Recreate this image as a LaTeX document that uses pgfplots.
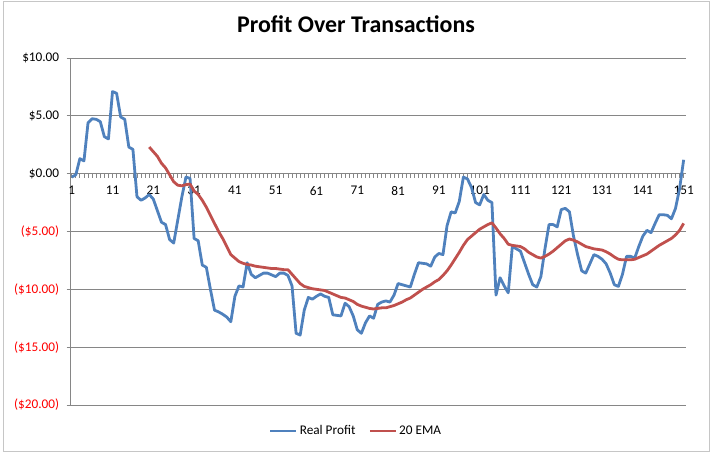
\documentclass[border=0pt]{standalone}
\usepackage{pgfplots}
\pgfplotsset{compat=1.18}
\usepackage{pgfplotstable}
\usepackage{fontspec}
\setmainfont{Carlito}
\definecolor{xblue}{HTML}{4F81BD}
\definecolor{xred}{HTML}{C0504D}
\definecolor{xgray}{HTML}{868686}
\definecolor{negred}{HTML}{FF0000}

\pgfplotstableread{
x y
1 -0.3
2 -0.1
3 1.3
4 1.1
5 4.4
6 4.75
7 4.7
8 4.5
9 3.2
10 3.0
11 7.1
12 6.95
13 4.9
14 4.7
15 2.3
16 2.1
17 -2.0
18 -2.3
19 -2.1
20 -1.8
21 -2.2
22 -3.2
23 -4.2
24 -4.4
25 -5.7
26 -6.0
27 -4.0
28 -2.0
29 -0.3
30 -0.4
31 -5.6
32 -5.8
33 -7.9
34 -8.1
35 -10.0
36 -11.8
37 -11.95
38 -12.15
39 -12.4
40 -12.8
41 -10.6
42 -9.7
43 -9.8
44 -7.7
45 -8.7
46 -9.0
47 -8.8
48 -8.6
49 -8.6
50 -8.75
51 -8.9
52 -8.6
53 -8.6
54 -8.8
55 -9.7
56 -13.8
57 -13.95
58 -11.8
59 -10.7
60 -10.85
61 -10.6
62 -10.4
63 -10.6
64 -10.7
65 -12.2
66 -12.25
67 -12.3
68 -11.2
69 -11.5
70 -12.3
71 -13.5
72 -13.8
73 -12.9
74 -12.3
75 -12.5
76 -11.3
77 -11.1
78 -11.0
79 -11.1
80 -10.5
81 -9.5
82 -9.6
83 -9.7
84 -9.8
85 -8.7
86 -7.7
87 -7.75
88 -7.8
89 -8.0
90 -7.2
91 -6.9
92 -7.0
93 -4.5
94 -3.3
95 -3.4
96 -2.4
97 -0.3
98 -0.45
99 -1.2
100 -2.5
101 -2.7
102 -1.8
103 -2.3
104 -2.5
105 -10.5
106 -9.0
107 -9.7
108 -10.3
109 -6.3
110 -6.5
111 -6.7
112 -7.7
113 -8.7
114 -9.6
115 -9.8
116 -8.9
117 -6.5
118 -4.4
119 -4.4
120 -4.6
121 -3.1
122 -3.0
123 -3.3
124 -5.4
125 -7.0
126 -8.4
127 -8.6
128 -7.8
129 -7.0
130 -7.15
131 -7.4
132 -7.8
133 -8.6
134 -9.6
135 -9.75
136 -8.7
137 -7.15
138 -7.15
139 -7.3
140 -6.3
141 -5.4
142 -4.9
143 -5.1
144 -4.3
145 -3.55
146 -3.55
147 -3.6
148 -3.9
149 -3.0
150 -1.3
151 1.2
}\realprofit

\pgfplotstableread{
x y
20 2.3
21 1.9
22 1.5
23 0.9
24 0.5
25 -0.1
26 -0.7
27 -1.0
28 -1.05
29 -0.95
30 -0.9
31 -1.5
32 -1.8
33 -2.3
34 -2.9
35 -3.6
36 -4.3
37 -5.0
38 -5.6
39 -6.3
40 -7.0
41 -7.3
42 -7.6
43 -7.75
44 -7.85
45 -7.9
46 -8.0
47 -8.05
48 -8.1
49 -8.15
50 -8.2
51 -8.2
52 -8.25
53 -8.3
54 -8.3
55 -8.7
56 -9.1
57 -9.5
58 -9.75
59 -9.85
60 -9.95
61 -10.0
62 -10.05
63 -10.1
64 -10.25
65 -10.4
66 -10.55
67 -10.7
68 -10.75
69 -10.9
70 -11.05
71 -11.3
72 -11.45
73 -11.55
74 -11.65
75 -11.7
76 -11.65
77 -11.6
78 -11.6
79 -11.5
80 -11.4
81 -11.25
82 -11.1
83 -10.9
84 -10.75
85 -10.5
86 -10.25
87 -10.0
88 -9.8
89 -9.6
90 -9.35
91 -9.15
92 -8.8
93 -8.4
94 -7.9
95 -7.35
96 -6.8
97 -6.2
98 -5.7
99 -5.4
100 -5.1
101 -4.8
102 -4.6
103 -4.4
104 -4.25
105 -4.7
106 -5.2
107 -5.6
108 -6.1
109 -6.2
110 -6.25
111 -6.3
112 -6.5
113 -6.8
114 -7.0
115 -7.2
116 -7.3
117 -7.15
118 -6.95
119 -6.7
120 -6.4
121 -6.1
122 -5.8
123 -5.65
124 -5.75
125 -5.9
126 -6.1
127 -6.3
128 -6.4
129 -6.5
130 -6.55
131 -6.6
132 -6.75
133 -6.95
134 -7.2
135 -7.4
136 -7.45
137 -7.45
138 -7.45
139 -7.4
140 -7.25
141 -7.1
142 -6.95
143 -6.7
144 -6.45
145 -6.2
146 -6.0
147 -5.8
148 -5.6
149 -5.3
150 -4.9
151 -4.3
}\ema

\begin{document}
\begin{tikzpicture}
\path[use as bounding box] (-70.7bp,-49bp) rectangle (640.3bp,405bp);
\draw[gray!45, line width=0.8bp] (-67.7bp,-46bp) rectangle (638.3bp,404bp);
\begin{axis}[
  at={(0,0)}, anchor=south west,
  scale only axis, width=615bp, height=347bp,
  xmin=0.75, xmax=151.5, ymin=-20, ymax=10,
  axis x line*=middle, axis y line*=left,
  axis line style={xgray, line width=0.8bp},
  tick align=outside,
  major tick length=4bp, minor tick length=4bp,
  tick style={xgray, line width=0.8bp},
  xtick={1,11,...,151},
  xticklabels={1,11,21,31,41,51,61,71,81,91,101,111,121,131,141,151},
  minor x tick num=9,
  ytick={-20,-15,...,10},
  yticklabels={\textcolor{negred}{(\$20.00)},\textcolor{negred}{(\$15.00)},\textcolor{negred}{(\$10.00)},\textcolor{negred}{(\$5.00)},\$0.00,\$5.00,\$10.00},
  ymajorgrids,
  major grid style={xgray, line width=0.8bp},
  ticklabel style={font=\fontsize{13.3}{15}\selectfont},
  xticklabel style={yshift=-5bp},
  yticklabel style={xshift=-4bp},
  title={Profit Over Transactions},
  title style={at={(0.464,1)}, anchor=center, yshift=28bp, font=\fontsize{24}{28}\selectfont\bfseries},
  legend style={at={(0.464,-0.075)}, anchor=center, draw=none, fill=none,
    legend columns=2, font=\fontsize{13.3}{15}\selectfont,
    /tikz/every even column/.append style={column sep=11bp}},
  legend image code/.code={\draw[#1] (0bp,0bp) -- (26bp,0bp);},
  clip=false,
]
\addplot[xblue, line width=2.8bp, line join=round] table[x=x,y=y] {\realprofit};
\addlegendentry{Real Profit}
\addplot[xred, line width=2.8bp, line join=round] table[x=x,y=y] {\ema};
\addlegendentry{20 EMA}
\end{axis}
\end{tikzpicture}
\end{document}
